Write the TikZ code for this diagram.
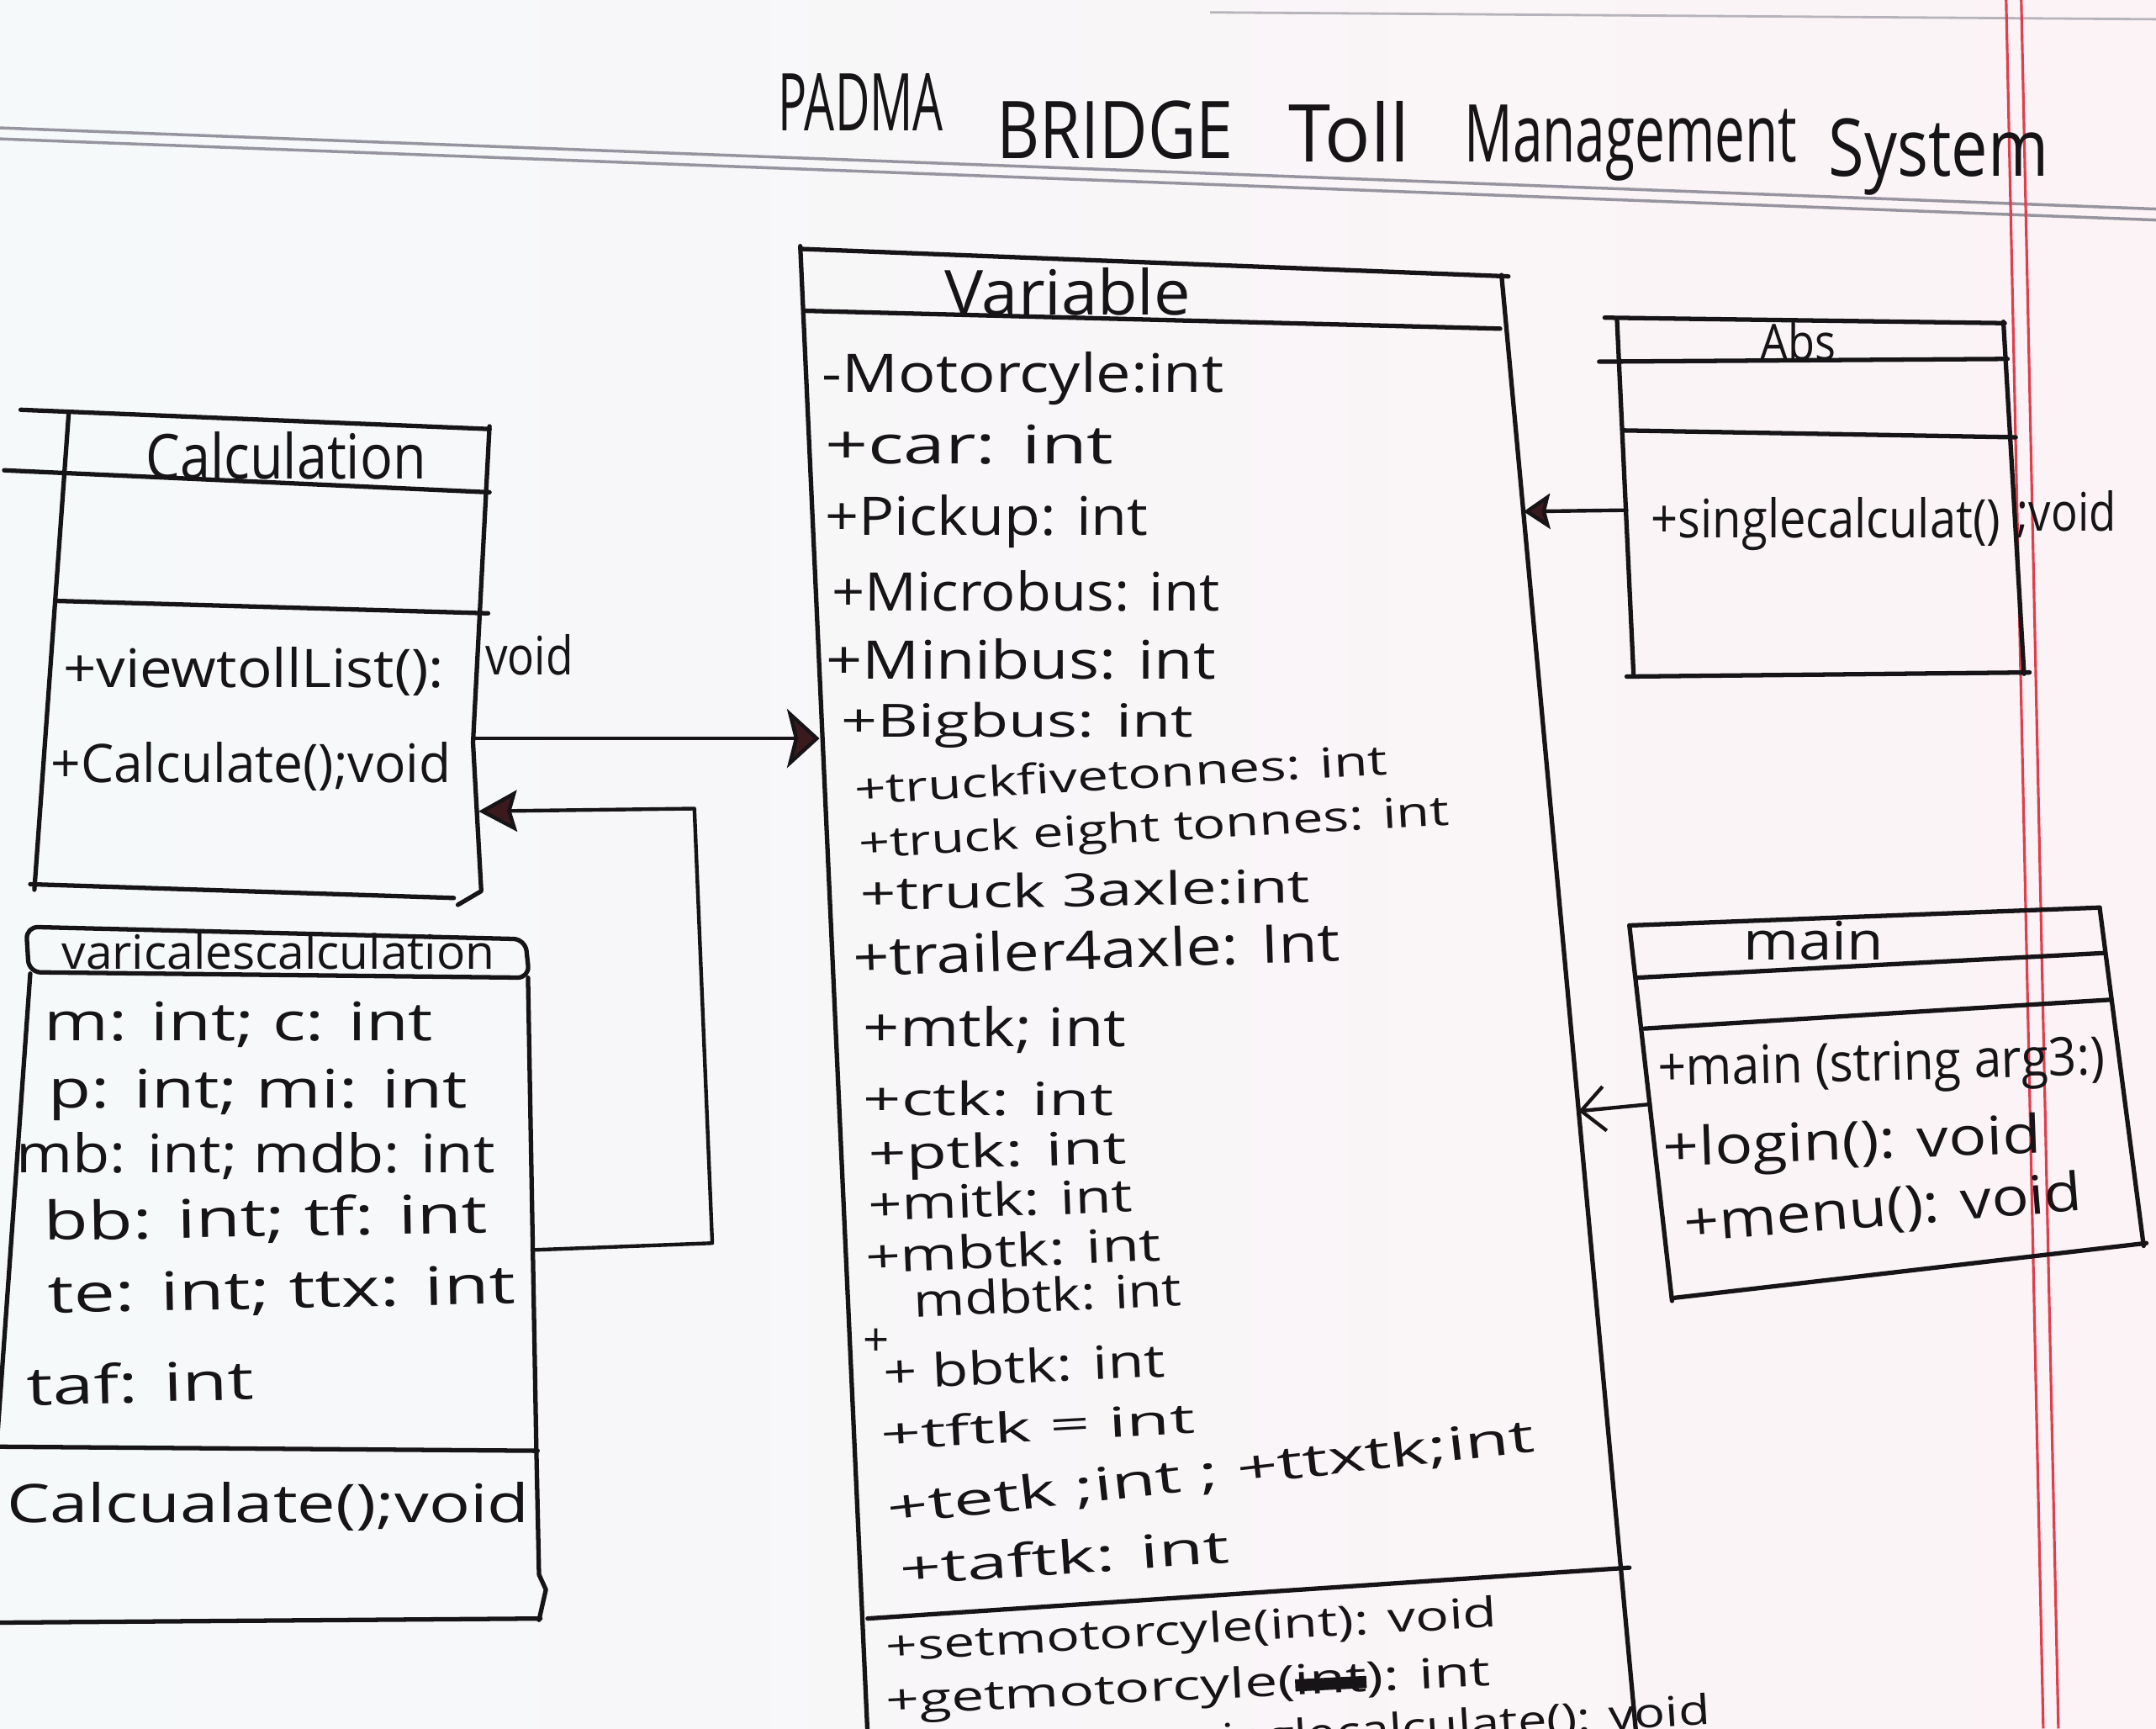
\documentclass[tikz,border=0pt]{standalone}
\usepackage{fontspec}
\setmainfont{Open Sans}
\usepackage{graphicx}
\usetikzlibrary{arrows.meta}
\newlength\pxu
\setlength\pxu{0.016352cm}
% stretch a text horizontally to a given width (in picture units)
\newcommand\fitw[2]{\resizebox{#1\pxu}{\height}{#2}}
% a word blotted out with a thick bar
\newcommand\blotted[1]{\setbox0\hbox{#1}\rlap{\rule[0.15ex]{\wd0}{0.55ex}}\box0}
\definecolor{ink}{RGB}{22,20,22}
\definecolor{tipfill}{RGB}{58,26,30}
\definecolor{paperL}{RGB}{245,249,250}
\definecolor{paperR}{RGB}{252,243,246}
\definecolor{ruling}{RGB}{150,148,158}
\definecolor{margin}{RGB}{224,62,76}

\begin{document}
\begin{tikzpicture}[x=0.016352cm, y=-0.016352cm]
\tikzset{
  box/.style={draw=ink, line width=1.5pt, line cap=round, line join=round},
  conn/.style={draw=ink, line width=1.25pt, line cap=round, line join=round},
  lbl/.style={anchor=base west, inner sep=0pt, outer sep=0pt, text=ink,
              font=\fontsize{18}{21}\selectfont},
  dense/.style={lbl, font=\fontsize{15.5}{18}\selectfont},
  tight/.style={lbl, font=\fontsize{14}{16}\selectfont},
  hdr/.style={lbl, font=\fontsize{21}{25}\selectfont},
  small/.style={lbl, font=\fontsize{16}{19}\selectfont},
  ttl/.style={lbl, font=\fontsize{27}{31}\selectfont},
  bigtip/.style={-{Stealth[length=11pt, width=20pt, inset=2.5pt, fill=tipfill, color=ink]}},
  midtip/.style={-{Stealth[length=13pt, width=14pt, inset=2pt, fill=tipfill, color=ink]}},
  smalltip/.style={-{Stealth[length=9pt, width=12pt, inset=1.5pt, fill=tipfill, color=ink]}},
  opentip/.style={-{Straight Barb[length=8pt, width=15pt, line width=1.2pt]}},
}

% page
\clip (0,0) rectangle (1568,1257);
\shade[left color=paperL, right color=paperR] (0,0) rectangle (1568,1257);

% ruled paper
\draw[ruling!70, line width=0.8pt] (880,9) -- (1568,14);
\draw[ruling, line width=1pt] (0,93) -- (1568,152);
\draw[ruling, line width=1pt] (0,101) -- (1568,160);
\draw[margin, line width=0.9pt] (1459,0) -- (1486,1257);
\draw[margin, line width=0.9pt] (1470,0) -- (1497,1257);

% title
\node[ttl] (t1) at (566,95)  {\fitw{120}{PADMA}};
\node[ttl] (t2) at (725,115) {\fitw{172}{BRIDGE}};
\node[ttl] (t3) at (937,118) {\fitw{88}{Toll}};
\node[ttl] (t4) at (1065,118) {\fitw{242}{Management}};
\node[ttl] (t5) at (1330,128) {\fitw{160}{System}};

% ---------------- Calculation ----------------
\draw[box] (15,298) -- (356,312);
\draw[box] (3,342) -- (356,358);
\draw[box] (42,437) -- (355,446);
\draw[box] (50,300) -- (25,647);
\draw[box] (356,310) -- (344,540) -- (350,648) -- (333,658);
\draw[box] (22,643) -- (330,653);
\node[hdr] (calcT) at (106,348) {\fitw{204}{Calculation}};
\node[lbl] (calc1) at (46,500) {\fitw{277}{+viewtollList():}};
\node[lbl] (calc1r) at (353,491) {\fitw{64}{void}};
\node[lbl] (calc2) at (37,569) {\fitw{291}{+Calculate();void}};
\coordinate (calcOut) at (344,537);
\coordinate (calcIn) at (348,590);

% ---------------- varicalescalculation ----------------
\draw[box, rounded corners=4pt] (19,674) -- (382,683) -- (385,711) -- (21,707) -- cycle;
\draw[box] (22,708) -- (-3,1060);
\draw[box] (384,711) -- (390,1050) -- (392,1145) -- (397,1156) -- (392,1178);
\draw[box] (-5,1052) -- (391,1055);
\draw[box] (-5,1180) -- (393,1177);
\node[small] (vcT) at (45,705) {\fitw{315}{varicalescalculation}};
\node[lbl] (vc1) at (32,757) {\fitw{283}{m: int; c: int}};
\node[lbl] (vc2) at (35,806) {\fitw{305}{p: int; mi: int}};
\node[lbl] (vc3) at (12,853) {\fitw{348}{mb: int; mdb: int}};
\node[lbl, rotate=1] (vc4) at (32,902) {\fitw{323}{bb: int; tf: int}};
\node[lbl, rotate=1.2] (vc5) at (35,955) {\fitw{340}{te: int; ttx: int}};
\node[lbl, rotate=1.5] (vc6) at (20,1022) {\fitw{165}{taf: int}};
\node[lbl] (vc7) at (5,1107) {\fitw{380}{Calcualate();void}};
\coordinate (vcOut) at (387,909);
\coordinate (vcB1) at (518,904);
\coordinate (vcB2) at (505,588);

% ---------------- Variable ----------------
\draw[box] (582,181) -- (1097,201);
\draw[box] (585,226) -- (1091,239);
\draw[box] (582,179) -- (631,1262);
\draw[box] (1092,200) -- (1190,1262);
\draw[box] (631,1177) -- (1185,1140);
\node[hdr] (varT) at (687,229) {\fitw{179}{Variable}};
\node[lbl] (v1) at (598,285) {\fitw{292}{-Motorcyle:int}};
\node[lbl] (v2) at (600,337) {\fitw{210}{+car: int}};
\node[lbl] (v3) at (600,389) {\fitw{235}{+Pickup: int}};
\node[lbl] (v4) at (605,444) {\fitw{282}{+Microbus: int}};
\node[lbl] (v5) at (601,494) {\fitw{283}{+Minibus: int}};
\node[dense] (v6) at (612,536) {\fitw{256}{+Bigbus: int}};
\node[tight, rotate=3.2] (v7) at (622,585) {\fitw{388}{+truckfivetonnes: int}};
\node[tight, rotate=3.2] (v8) at (625,624) {\fitw{430}{+truck eight tonnes: int}};
\node[dense, rotate=1] (v9) at (626,662) {\fitw{327}{+truck 3axle:int}};
\node[lbl, rotate=1.8] (v10) at (621,710) {\fitw{354}{+trailer4axle: Int}};
\node[lbl] (v11) at (628,761) {\fitw{191}{+mtk; int}};
\node[dense] (v12) at (628,811) {\fitw{182}{+ctk: int}};
\node[dense, rotate=1.5] (v13) at (632,851) {\fitw{188}{+ptk: int}};
\node[dense, rotate=2] (v14) at (632,888) {\fitw{192}{+mitk: int}};
\node[dense, rotate=2.5] (v15) at (630,926) {\fitw{215}{+mbtk: int}};
\node[dense] (v16a) at (628,986) {+};
\node[dense, rotate=2.5] (v16) at (665,958) {\fitw{195}{mdbtk: int}};
\node[dense, rotate=2.5] (v17) at (643,1010) {\fitw{205}{+ bbtk: int}};
\node[tight, rotate=3] (v18) at (641,1054) {\fitw{229}{+tftk = int}};
\node[dense, rotate=6.5] (v19) at (647,1109) {\fitw{473}{+tetk ;int ; +ttxtk;int}};
\node[dense, rotate=4] (v20) at (655,1153) {\fitw{240}{+taftk: int}};
\node[tight, rotate=3.2] (vm1) at (645,1208) {\fitw{445}{+setmotorcyle(int): void}};
\node[tight, rotate=2.8] (vm2) at (645,1247) {\fitw{440}{+getmotorcyle(\blotted{int}): int}};
\node[tight, rotate=3.5] (vm3) at (850,1278) {\fitw{395}{+singlecalculate(): void}};
\coordinate (varInL) at (596,537);
\coordinate (varInAbs) at (1108,372);
\coordinate (varInMain) at (1148,808);

% ---------------- Abs ----------------
\draw[box] (1167,231) -- (1458,235);
\draw[box] (1163,263) -- (1460,261);
\draw[box] (1176,233) -- (1188,490);
\draw[box] (1457,234) -- (1472,490);
\draw[box] (1180,313) -- (1466,318);
\draw[box] (1183,492) -- (1476,489);
\node[small, font=\fontsize{17}{20}\selectfont] (absT) at (1280,262) {\fitw{55}{Abs}};
\node[lbl] (abs1) at (1201,391) {\fitw{254}{+singlecalculat()}};
\node[lbl] (abs1r) at (1467,386) {\fitw{72}{;void}};
\coordinate (absOut) at (1183,371);

% ---------------- main ----------------
\draw[box] (1185,673) -- (1527,660);
\draw[box] (1190,711) -- (1531,693);
\draw[box] (1196,748) -- (1535,727);
\draw[box] (1185,673) -- (1216,946);
\draw[box] (1527,660) -- (1559,906);
\draw[box] (1216,944) -- (1561,904);
\node[lbl] (mainT) at (1268,698) {\fitw{102}{main}};
\node[lbl, rotate=1.5] (m1) at (1206,790) {\fitw{325}{+main (string arg3:)}};
\node[lbl, rotate=2] (m2) at (1210,848) {\fitw{275}{+login(): void}};
\node[lbl, rotate=4.5] (m3) at (1226,903) {\fitw{290}{+menu(): void}};
\coordinate (mainOut) at (1200,803);

% ---------------- connectors ----------------
\draw[conn, bigtip] (calcOut) -- (varInL);
\draw[conn, midtip] (vcOut) -- (vcB1) -- (vcB2) -- (calcIn);
\draw[conn, smalltip] (absOut) -- (varInAbs);
\draw[conn, opentip] (mainOut) -- (varInMain);

\end{tikzpicture}
\end{document}
